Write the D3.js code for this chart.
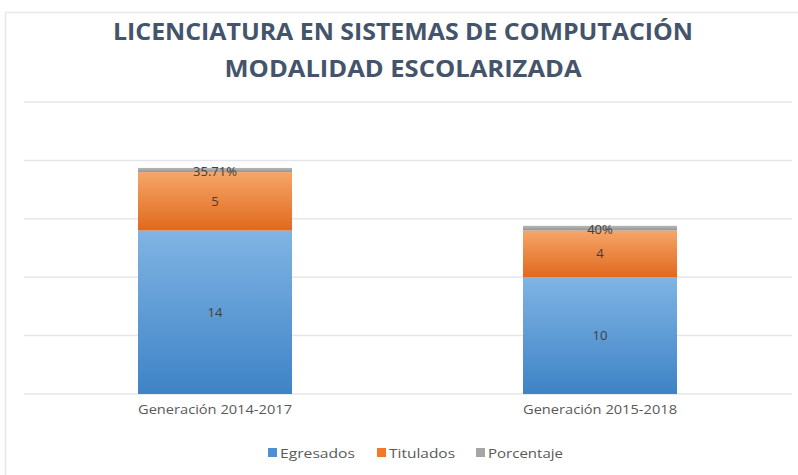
<!DOCTYPE html>
<html><head><meta charset="utf-8">
<script src="https://cdn.jsdelivr.net/npm/d3@7"></script>
<style>body{margin:0;background:#fff}svg{display:block}</style>
</head><body><svg id="c" width="798" height="475"></svg>
<script>
const categories = ["Generación 2014-2017", "Generación 2015-2018"];
const egresados = [14, 10];
const titulados = [5, 4];
const porcentaje = [0.3571, 0.4];
const porcentajeLabels = ["35.71%", "40%"];
const seriesNames = ["Egresados", "Titulados", "Porcentaje"];
const yTicks = [0, 5, 10, 15, 20, 25];
const titleLines = ["LICENCIATURA EN SISTEMAS DE COMPUTACIÓN", "MODALIDAD ESCOLARIZADA"];

const svg = d3.select("#c");
const W = 798, H = 475;
const font = "'Open Sans', sans-serif";

// frame
svg.append("path").attr("d", `M5.5,${H} V12.5 H${W}`).attr("fill","none").attr("stroke","#e8e8e8").attr("stroke-width",1.5);

const defs = svg.append("defs");
function grad(id, c1, c2){
  const g = defs.append("linearGradient").attr("id", id).attr("x1",0).attr("y1",0).attr("x2",0).attr("y2",1);
  g.append("stop").attr("offset","0%").attr("stop-color",c1);
  g.append("stop").attr("offset","100%").attr("stop-color",c2);
}
grad("gB","#80b4e4","#3e83c6");
grad("gO","#f6a56a","#e0691c");
grad("gG","#b8b8b8","#959595");
const fills = ["url(#gB)","url(#gO)","url(#gG)"];
const legendCols = ["#4f90d0","#f07a2a","#a5a5a5"];

const x = d3.scaleBand().domain(categories).range([22.5, 792.5]).paddingInner(0.6).paddingOuter(0.3);
const y = d3.scaleLinear().domain([0, 25]).range([394, 102]);

// gridlines
svg.append("g").selectAll("line").data(yTicks).join("line")
  .attr("x1", 24).attr("x2", 792)
  .attr("y1", d => y(d)).attr("y2", d => y(d))
  .attr("stroke", "#e6e6ea").attr("stroke-width", 1.5);

// stacked data
const rows = categories.map((c,i)=>({cat:c, Egresados:egresados[i], Titulados:titulados[i], Porcentaje:porcentaje[i], i}));
const stack = d3.stack().keys(seriesNames)(rows);

stack.forEach((s, si) => {
  svg.append("g").selectAll("rect").data(s).join("rect")
    .attr("x", d => x(d.data.cat))
    .attr("width", x.bandwidth())
    .attr("y", d => y(d[1]))
    .attr("height", d => y(d[0]) - y(d[1]))
    .attr("fill", fills[si]);
});

// data labels
const labelG = svg.append("g").attr("font-family", font).attr("font-size", 13).attr("fill", "#404040").attr("text-anchor","middle");
stack.forEach((s, si) => {
  labelG.selectAll(null).data(s).join("text")
    .attr("x", d => x(d.data.cat) + x.bandwidth()/2)
    .attr("y", d => si === 2 ? y(d[1]) + 4 : (y(d[0]) + y(d[1]))/2)
    .attr("dy", "0.35em")
    .text(d => si === 0 ? d.data.Egresados : si === 1 ? d.data.Titulados : porcentajeLabels[d.data.i]);
});

// x axis labels
const xAxis = d3.axisBottom(x).tickSize(0).tickPadding(11);
const gx = svg.append("g").attr("transform", "translate(0,394)").call(xAxis);
gx.select(".domain").remove();
gx.selectAll("text").attr("font-family", font).attr("font-size", 13).attr("fill", "#595959")
  .attr("textLength", 154).attr("lengthAdjust", "spacingAndGlyphs");

// title
svg.append("g").selectAll("text").data(titleLines).join("text")
  .attr("x", 403).attr("y", (d,i) => 40 + i*37)
  .attr("text-anchor","middle")
  .attr("font-family", "'Open Sans', sans-serif").attr("font-weight", 700).attr("font-size", 23)
  .attr("fill", "#44546a")
  .attr("textLength", (d,i) => i === 0 ? 580 : 357)
  .attr("lengthAdjust", "spacingAndGlyphs")
  .text(d => d);

// legend
const legX = [268, 377, 476];
const legW = [75, 66, 75];
const lg = svg.append("g").attr("font-family", font).attr("font-size", 13).attr("fill", "#595959");
seriesNames.forEach((n,i) => {
  lg.append("rect").attr("x", legX[i]).attr("y", 448).attr("width", 9).attr("height", 9).attr("fill", legendCols[i]);
  lg.append("text").attr("x", legX[i] + 12).attr("y", 453).attr("dy","0.35em")
    .attr("textLength", legW[i]).attr("lengthAdjust", "spacingAndGlyphs").text(n);
});
</script></body></html>
